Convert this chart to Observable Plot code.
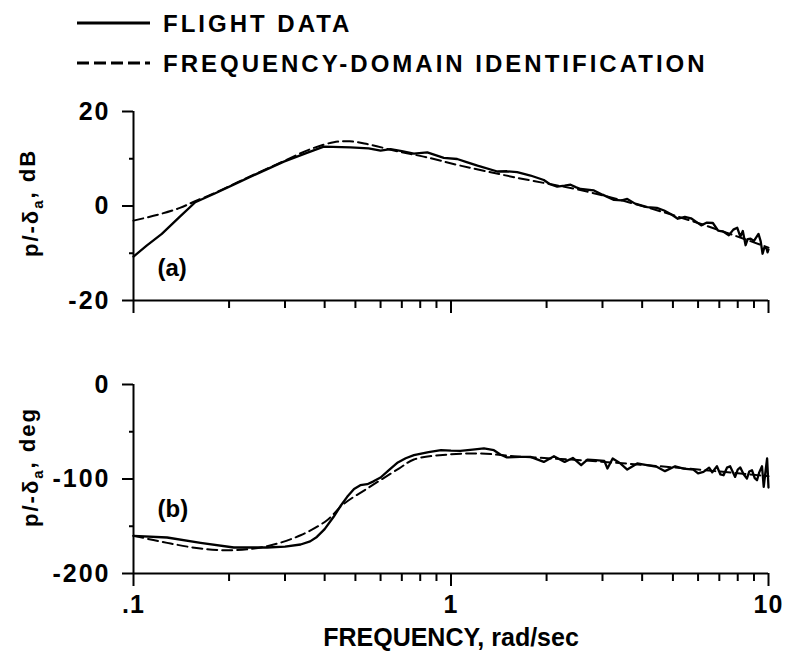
<!DOCTYPE html>
<html>
<head>
<meta charset="utf-8">
<script src="https://cdn.jsdelivr.net/npm/d3@7"></script>
<script src="https://cdn.jsdelivr.net/npm/@observablehq/plot@0.6"></script>
<style>
  body { margin: 0; background: #fff; }
  #fig { position: relative; width: 787px; height: 656px; overflow: hidden; background: #fff; }
  #fig > svg { position: absolute; left: 0; }
  .panel [aria-label$="axis tick"] path { stroke: #000; stroke-width: 2px; stroke-opacity: 1; }
  .panel [aria-label="y-axis tick label"] text { letter-spacing: 2px; }
  .panel [aria-label="x-axis tick label"] text { letter-spacing: 1px; }
  .panel text.ttl { letter-spacing: 2px; }
</style>
</head>
<body>
<div id="fig"></div>
<script>
const FONT = "'Liberation Sans', Arial, Helvetica, sans-serif";

// Legend
const legendLabels = ["FLIGHT DATA", "FREQUENCY-DOMAIN IDENTIFICATION"];
const legendDashes = [null, "12,5"];

// Frequency axis (rad/sec), log scale
const freqDomain = [0.1, 10];
const freqMajor = [0.1, 1, 10];
const freqMinor = [0.2, 0.3, 0.4, 0.5, 0.6, 0.7, 0.8, 0.9, 2, 3, 4, 5, 6, 7, 8, 9];
const freqTickLabels = [".1", "1", "10"];
const freqTitle = "FREQUENCY, rad/sec";

// (a) magnitude, dB
const magDomain = [-20, 20];
const magMajor = [-20, 0, 20];
const magMinor = [-10, 10];
const magTitle = "p/-δa, dB";
const magTag = "(a)";

const magFlightFreq = [0.1, 0.11, 0.1228, 0.14, 0.1565, 0.181, 0.214, 0.2337, 0.2975, 0.35, 0.3976, 0.4822, 0.55, 0.6, 0.645, 0.7, 0.764, 0.842, 0.949, 1.046, 1.12, 1.212, 1.4, 1.5, 1.616, 1.78, 1.96, 2.05, 2.16, 2.28, 2.38, 2.47, 2.56, 2.82, 3.0, 3.26, 3.45, 3.59, 3.8, 4.15, 4.45, 4.69, 4.95, 5.18, 5.45, 5.7, 6.14, 6.4, 6.68, 6.94, 7.2, 7.5, 7.75, 7.97, 8.15, 8.3, 8.47, 8.6, 8.78, 9.0, 9.3, 9.45, 9.58, 9.7, 9.86, 9.93, 10];
const magFlight     = [-10.7, -8.4, -5.9, -2.25, 0.8, 2.7, 5.0, 6.2, 9.4, 11.2, 12.55, 12.4, 12.2, 11.7, 12.05, 11.6, 11.1, 11.35, 10.2, 9.95, 9.3, 8.55, 7.3, 7.35, 7.15, 6.45, 5.5, 4.6, 4.1, 4.3, 4.5, 4.0, 3.6, 3.3, 2.4, 1.3, 1.2, 1.5, 0.5, -0.25, -0.4, -0.95, -1.8, -2.7, -2.3, -2.6, -4.1, -3.5, -3.6, -5.2, -5.4, -6.2, -5.0, -4.6, -6.5, -5.3, -8.3, -7.0, -6.9, -7.4, -5.9, -7.5, -10.1, -8.8, -9.0, -9.8, -9.2];

const magIdentFreq = [0.1, 0.1216, 0.14, 0.155, 0.181, 0.214, 0.2337, 0.2975, 0.36, 0.4273, 0.48, 0.545, 0.685, 0.82, 1.07, 1.58, 2.68, 4.0, 6.0, 10];
const magIdent     = [-3.1, -1.7, -0.4, 0.9, 2.8, 5.1, 6.3, 9.5, 12.0, 13.5, 13.7, 13.1, 11.5, 10.45, 8.55, 6.1, 3.05, 0.0, -3.6, -8.8];

// (b) phase, deg
const phaseDomain = [-200, 0];
const phaseMajor = [-200, -100, 0];
const phaseMinor = [-150, -50];
const phaseTitle = "p/-δa, deg";
const phaseTag = "(b)";

const phaseFlightFreq = [0.1, 0.1276, 0.1626, 0.207, 0.2637, 0.30, 0.336, 0.36, 0.378, 0.40, 0.427, 0.45, 0.471, 0.495, 0.518, 0.545, 0.57, 0.6, 0.64, 0.68, 0.72, 0.764, 0.85, 0.93, 1.0, 1.07, 1.17, 1.27, 1.365, 1.43, 1.5, 1.65, 1.78, 1.96, 2.11, 2.28, 2.42, 2.57, 2.69, 2.85, 3.04, 3.11, 3.23, 3.4, 3.59, 3.86, 4.1, 4.46, 4.72, 5.08, 5.4, 5.8, 6.0, 6.24, 6.5, 6.65, 6.88, 7.05, 7.22, 7.4, 7.57, 7.85, 8.0, 8.15, 8.35, 8.55, 8.7, 8.87, 9.05, 9.2, 9.35, 9.54, 9.66, 9.8, 9.9, 10];
const phaseFlight     = [-160.2, -161.9, -167.6, -172.5, -172.5, -171.5, -169.3, -166, -161.3, -153, -140, -128, -118.9, -110.5, -106.6, -105.5, -102.5, -98.4, -90, -82.5, -78, -74.8, -71.5, -69.5, -70, -70.2, -69, -67.7, -69.5, -74, -77.2, -76.5, -76.6, -81.9, -75.9, -81.9, -77.7, -85.4, -79.4, -80, -80.8, -88.9, -78.3, -83, -90, -83.6, -85, -87.2, -91.7, -86.5, -89, -90, -94, -92.5, -88, -93, -86.5, -95, -96, -88, -86.5, -97.8, -90, -87.8, -95, -99.5, -92, -90.7, -99, -101.3, -93, -86.5, -108.4, -90, -78.3, -109];

const phaseIdentFreq = [0.1, 0.1276, 0.1626, 0.207, 0.2637, 0.336, 0.407, 0.458, 0.545, 0.685, 0.764, 0.976, 1.24, 1.58, 2.56, 4.0, 6.0, 10];
const phaseIdent     = [-160, -167.6, -173.5, -175.3, -171.1, -159.5, -143.6, -126.7, -110, -89, -79.4, -74.1, -73, -75.9, -80.1, -85, -90, -97];

const rows = (fs, vs) => fs.map((f, i) => ({f, v: vs[i]}));
const blank = () => "";

const fig = document.getElementById("fig");

// ---- legend ----
const legend = d3.create("svg")
  .attr("width", 787).attr("height", 90)
  .style("top", "0px")
  .attr("font-family", FONT);
legendLabels.forEach((label, i) => {
  legend.append("line")
    .attr("x1", 77).attr("x2", 150)
    .attr("y1", 23 + 40 * i).attr("y2", 23 + 40 * i)
    .attr("stroke", "black").attr("stroke-width", 3)
    .attr("stroke-dasharray", legendDashes[i]);
  legend.append("text")
    .attr("x", 163).attr("y", 32 + 40 * i)
    .attr("font-size", 24).attr("font-weight", "bold")
    .attr("letter-spacing", "3px")
    .text(label);
});
fig.appendChild(legend.node());

// ---- one Bode panel ----
function panel({top, height, marginTop, marginBottom, yDomain, yMajor, yMinor,
                flight, ident, tag, tagDy, title, titleDy, withFreqLabels}) {
  const marks = [
    // left and bottom axis lines
    Plot.ruleX([freqDomain[0]], {stroke: "black", strokeWidth: 2}),
    Plot.ruleY([yDomain[0]], {stroke: "black", strokeWidth: 2}),
    Plot.axisY({ticks: yMinor, tickSize: 4, tickFormat: blank, label: null}),
    Plot.axisY({ticks: yMajor, tickSize: 11, tickPadding: 12, label: null,
      tickFormat: d => String(d), fontSize: 25, fontWeight: "bold"}),
    Plot.axisX({ticks: freqMinor, tickSize: 8, tickFormat: blank, label: null}),
    Plot.axisX({ticks: freqMajor, tickSize: 13, tickPadding: 9, label: null,
      tickFormat: withFreqLabels ? (d => freqTickLabels[freqMajor.indexOf(d)]) : blank,
      fontSize: 25, fontWeight: "bold"}),
    Plot.line(ident, {x: "f", y: "v", stroke: "black", strokeWidth: 2,
      strokeDasharray: "10,5", curve: "catmull-rom"}),
    Plot.line(flight, {x: "f", y: "v", stroke: "black", strokeWidth: 2.3}),
    Plot.text([tag], {frameAnchor: "bottom-left", textAnchor: "start", lineAnchor: "bottom",
      dx: 24, dy: tagDy, fontSize: 24, fontWeight: "bold"}),
    Plot.text([title], {frameAnchor: "left", textAnchor: "middle", lineAnchor: "middle",
      rotate: -90, dx: -103, dy: titleDy, fontSize: 22, fontWeight: "bold"})
  ];
  if (withFreqLabels) {
    marks.push(
      Plot.text([freqTitle], {frameAnchor: "bottom", lineAnchor: "middle", dy: 64,
        fontSize: 25, fontWeight: "bold", className: "ttl"})
    );
  }
  const svg = Plot.plot({
    width: 787, height, marginLeft: 133, marginRight: 19, marginTop, marginBottom,
    className: "panel",
    style: {fontFamily: FONT, background: "transparent", overflow: "visible", color: "black"},
    x: {type: "log", domain: freqDomain},
    y: {domain: yDomain},
    marks
  });
  // subscript "a" on δ in the rotated axis titles
  d3.select(svg).selectAll("text").filter(function () {
    return this.textContent === title;
  }).each(function () {
    const t = d3.select(this);
    const [head, tail] = title.split("δa");
    t.text(null).attr("letter-spacing", "2px");
    t.append("tspan").text(head + "δ");
    t.append("tspan").attr("font-size", "15px").attr("dy", "0.35em").text("a");
    t.append("tspan").attr("dy", "-0.35em").text(tail);
  });
  svg.style.top = top + "px";
  fig.appendChild(svg);
}

panel({top: 90, height: 240, marginTop: 21, marginBottom: 30,
  yDomain: magDomain, yMajor: magMajor, yMinor: magMinor,
  flight: rows(magFlightFreq, magFlight), ident: rows(magIdentFreq, magIdent),
  tag: magTag, tagDy: -25, title: magTitle, titleDy: -3, withFreqLabels: false});

panel({top: 340, height: 316, marginTop: 44, marginBottom: 83,
  yDomain: phaseDomain, yMajor: phaseMajor, yMinor: phaseMinor,
  flight: rows(phaseFlightFreq, phaseFlight), ident: rows(phaseIdentFreq, phaseIdent),
  tag: phaseTag, tagDy: -57, title: phaseTitle, titleDy: -12, withFreqLabels: true});
</script>
</body>
</html>
